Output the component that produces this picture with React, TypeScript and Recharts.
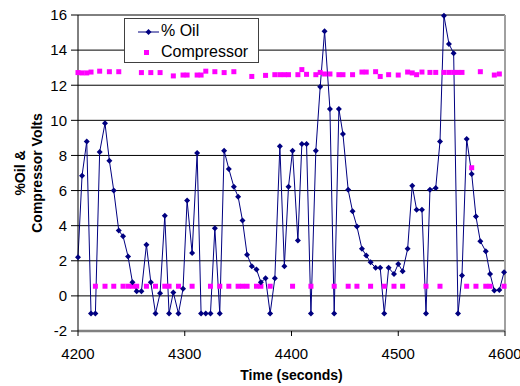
import React from 'react';
import { ComposedChart, Line, XAxis, YAxis, CartesianGrid, ReferenceLine } from 'recharts';

// time stamps (seconds)
const times = [
  4200, 4203.8, 4208.2, 4212.2, 4216.3, 4220.3, 4225.3, 4229.4, 4233.5, 4238.2,
  4242.2, 4246.9, 4251, 4255, 4259.4, 4264.1, 4268.2, 4272.6, 4276.9, 4281.3,
  4285.3, 4289.3, 4294.1, 4298.4, 4302.2, 4306.9, 4311.6, 4315.3, 4319.7, 4324.1,
  4328.2, 4332.8, 4336.9, 4341.3, 4346, 4350, 4354.1, 4358.4, 4362.8, 4367.2,
  4371.3, 4375.7, 4380, 4384.4, 4389.1, 4393.3, 4397.2, 4401, 4406, 4409.7,
  4414.1, 4418.2, 4422.8, 4426.9, 4431, 4436, 4440, 4444.4, 4448.2, 4453.1,
  4457.2, 4461.3, 4466, 4470, 4474.1, 4478.8, 4483.1, 4486.9, 4491, 4496,
  4500, 4504.1, 4508.8, 4513.1, 4517.2, 4522.2, 4526, 4529.7, 4535.1, 4539.1,
  4542.8, 4547.5, 4551.9, 4556, 4559.7, 4564.1, 4568.8, 4572.8, 4576.9, 4582,
  4586, 4590, 4594.7, 4599.1,
];

const oilPct = [
  2.2, 6.85, 8.8, -1, -1, 8.2, 9.83, 7.7, 6.0, 3.72,
  3.4, 2.24, 0.78, 0.26, 0.26, 2.92, 0.78, -1, 0.15, 4.57,
  -1, 0.2, -1, 0.4, 5.43, 2.45, 8.14, -1, -1, -1,
  3.85, -1, 8.27, 7.23, 6.22, 5.65, 4.29, 2.35, 1.69, 1.51,
  0.78, 1.0, -1, 1.0, 8.52, 1.69, 6.22, 8.27, 3.15, 8.65,
  8.65, -1, 8.27, 11.92, 15.07, 10.65, -1, 10.65, 9.22, 6.04,
  4.82, 3.95, 2.68, 2.3, 1.91, 1.6, 1.6, -1, 1.6, 1.25,
  1.82, 1.4, 2.68, 6.28, 4.91, 4.91, -1, 6.05, 6.15, 8.79,
  15.96, 14.35, 13.82, -1, 1.16, 8.94, 6.95, 4.52, 3.11, 2.54,
  1.25, 0.3, 0.34, 1.34,
];

const compressorVolts = [
  12.72, 12.7, 12.7, 12.75, 0.55, 12.8, 0.55, 12.77, 0.55, 12.77,
  0.55, 0.55, 0.55, 0.55, 12.72, 0.55, 12.72, 0.55, 12.72, 0.55,
  0.55, 12.53, 0.55, 12.58, 12.58, 0.55, 12.58, 12.58, 12.8, 0.55,
  12.77, 0.55, 12.72, 0.55, 12.77, 0.55, 0.55, 0.55, 12.5, 0.55,
  0.55, 12.56, 0.55, 12.6, 12.6, 12.6, 12.6, 0.55, 12.6, 12.89,
  12.62, 0.55, 12.6, 12.73, 12.64, 12.64, 0.55, 12.6, 12.6, 0.55,
  12.6, 0.55, 12.75, 12.75, 0.55, 12.77, 12.5, 0.55, 12.6, 0.55,
  12.58, 0.55, 12.75, 12.7, 12.6, 12.75, 0.55, 12.73, 12.73, 0.55,
  12.73, 12.73, 12.73, 12.73, 12.73, 0.55, 7.3, 0.55, 12.77, 0.55,
  0.55, 12.58, 12.64, 0.55,
];

const xTicks = [4200, 4300, 4400, 4500, 4600];
const yTicks = [-2, 0, 2, 4, 6, 8, 10, 12, 14, 16];

const rows = times.map((t, i) => ({ t, oil: oilPct[i], comp: compressorVolts[i] }));

const FONT = '"Liberation Sans", Arial, sans-serif';
const NAVY = '#000080';
const MAGENTA = '#FF00FF';

function Diamond(props: any) {
  const { cx, cy, index } = props;
  if (cx == null || cy == null) return <g key={`d-${index}`} />;
  return (
    <path
      key={`d-${index}`}
      d={`M${cx},${cy - 3}L${cx + 3},${cy}L${cx},${cy + 3}L${cx - 3},${cy}Z`}
      fill={NAVY}
    />
  );
}

function Square(props: any) {
  const { cx, cy, index } = props;
  if (cx == null || cy == null) return <g key={`s-${index}`} />;
  return <rect key={`s-${index}`} x={cx - 2.5} y={cy - 2.5} width={5} height={5} fill={MAGENTA} />;
}

function YTitle(props: any) {
  const vb = props.viewBox || { x: 0, y: 15, width: 78, height: 316 };
  const cy = vb.y + vb.height / 2;
  return (
    <g fontFamily={FONT} fontWeight="bold" fontSize={14} fill="#000" textAnchor="middle">
      <text transform={`translate(25, ${cy}) rotate(-90)`}>%Oil &amp;</text>
      <text transform={`translate(42, ${cy}) rotate(-90)`}>Compressor Volts</text>
    </g>
  );
}

function XTitle(props: any) {
  const vb = props.viewBox || { x: 78, y: 331, width: 427, height: 55 };
  return (
    <text
      x={vb.x + vb.width / 2}
      y={vb.y + 49}
      textAnchor="middle"
      fontFamily={FONT}
      fontWeight="bold"
      fontSize={14}
      fill="#000"
    >
      Time (seconds)
    </text>
  );
}

function LegendBox() {
  return (
    <div
      style={{
        position: 'absolute',
        left: 124,
        top: 18,
        width: 133,
        height: 43,
        border: '1px solid #404040',
        background: '#fff',
        fontFamily: FONT,
        fontSize: 16,
        color: '#000',
      }}
    >
      <svg width={24} height={12} style={{ position: 'absolute', left: 12, top: 7 }}>
        <line x1={1} y1={6} x2={22} y2={6} stroke={NAVY} strokeWidth={1} />
        <path d="M11.5,3L14.5,6L11.5,9L8.5,6Z" fill={NAVY} />
      </svg>
      <span style={{ position: 'absolute', left: 36, top: 3, lineHeight: '18px' }}>% Oil</span>
      <div style={{ position: 'absolute', left: 19, top: 31, width: 5, height: 5, background: MAGENTA }} />
      <span style={{ position: 'absolute', left: 36, top: 24, lineHeight: '18px' }}>Compressor</span>
    </div>
  );
}

export default function App() {
  return (
    <div style={{ position: 'absolute', left: 0, top: 0, width: 520, height: 386, background: '#fff' }}>
      <ComposedChart
        width={520}
        height={386}
        data={rows}
        margin={{ top: 15, right: 15, bottom: 0, left: 0 }}
      >
        <CartesianGrid vertical={false} stroke="#000" strokeWidth={1} />
        <XAxis
          dataKey="t"
          type="number"
          domain={[4200, 4600]}
          ticks={xTicks}
          height={55}
          axisLine={{ stroke: '#808080', strokeWidth: 2.5 }}
          tickLine={{ stroke: '#000' }}
          tickSize={5}
          tickMargin={12}
          tick={{ fontSize: 15, fontFamily: FONT, fill: '#000' }}
          label={<XTitle />}
        />
        <YAxis
          type="number"
          domain={[-2, 16]}
          ticks={yTicks}
          width={78}
          axisLine={{ stroke: '#000' }}
          tickLine={{ stroke: '#000' }}
          tickSize={7}
          tickMargin={4}
          tick={{ fontSize: 15, fontFamily: FONT, fill: '#000' }}
          label={<YTitle />}
        />
        <ReferenceLine x={4600} stroke="#a0a0a0" strokeWidth={2} />
        <Line
          dataKey="comp"
          stroke="none"
          dot={Square}
          activeDot={false}
          isAnimationActive={false}
        />
        <Line
          dataKey="oil"
          stroke={NAVY}
          strokeWidth={1}
          dot={Diamond}
          activeDot={false}
          isAnimationActive={false}
        />
      </ComposedChart>
      <LegendBox />
    </div>
  );
}
